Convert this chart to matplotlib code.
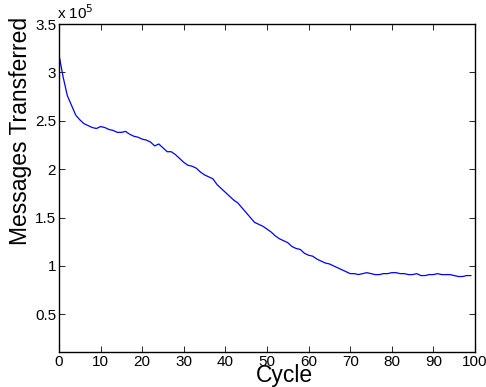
import numpy as np
import matplotlib
matplotlib.use("Agg")
import matplotlib.pyplot as plt

plt.rcParams['font.family'] = ['Liberation Sans', 'DejaVu Sans']

# messages transferred per cycle, in units of 1e5
cycles = list(range(100))
messages_e5 = [
    3.18, 2.95, 2.76, 2.66, 2.56, 2.51, 2.47, 2.45, 2.43, 2.42,
    2.44, 2.43, 2.41, 2.40, 2.38, 2.38, 2.39, 2.36, 2.34, 2.33,
    2.31, 2.30, 2.28, 2.24, 2.26, 2.22, 2.18, 2.18, 2.15, 2.11,
    2.07, 2.04, 2.03, 2.01, 1.97, 1.94, 1.92, 1.90, 1.84, 1.80,
    1.76, 1.72, 1.68, 1.65, 1.60, 1.55, 1.50, 1.45, 1.43, 1.41,
    1.38, 1.35, 1.31, 1.28, 1.26, 1.24, 1.20, 1.18, 1.17, 1.13,
    1.11, 1.10, 1.07, 1.05, 1.03, 1.02, 1.00, 0.98, 0.96, 0.94,
    0.92, 0.92, 0.91, 0.92, 0.93, 0.92, 0.91, 0.91, 0.92, 0.92,
    0.93, 0.93, 0.92, 0.92, 0.91, 0.91, 0.92, 0.90, 0.90, 0.91,
    0.91, 0.92, 0.91, 0.91, 0.91, 0.90, 0.89, 0.89, 0.90, 0.90,
]
xticks = list(range(0, 101, 10))
yticks = [0.5, 1, 1.5, 2, 2.5, 3, 3.5]
ytick_labels = ["0.5", "1", "1.5", "2", "2.5", "3", "3.5"]

fig = plt.figure(figsize=(4.86, 3.87), dpi=100)
ax = fig.add_axes([59 / 486, 1 - 352 / 387, (475 - 59) / 486, (352 - 24) / 387])
ax.plot(cycles, messages_e5, color='blue', lw=0.9)

ax.set_xlim(0, 100)
ax.set_ylim(0.11, 3.5)
ax.set_xticks(xticks)
ax.set_yticks(yticks)
ax.set_yticklabels(ytick_labels)
ax.tick_params(direction='in', top=True, right=True, length=4, width=0.6,
               labelsize=11, pad=2)
for s in ax.spines.values():
    s.set_linewidth(1.0)

# matlab puts the labels a bit off-centre
ax.set_xlabel('Cycle', fontsize=16.5)
ax.xaxis.set_label_coords(0.541, -0.036)
ax.set_ylabel('Messages Transferred', fontsize=16.5)
ax.yaxis.set_label_coords(-0.065, 0.675)
fig.text(57 / 486, 1 - 19 / 387, r'x 10$^5$', fontsize=11, va='baseline', ha='left')

fig.savefig('out.png', dpi=100)
